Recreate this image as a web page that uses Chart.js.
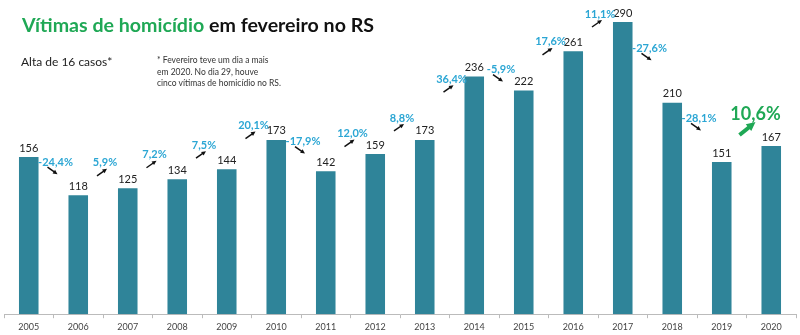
<!DOCTYPE html>
<html>
<head>
<meta charset="utf-8">
<script src="https://cdn.jsdelivr.net/npm/chart.js@4.4.1/dist/chart.umd.min.js"></script>
<style>
  body { margin: 0; background: #fff; }
  #wrap { position: relative; width: 800px; height: 335px; }
  #title { position: absolute; left: 22px; top: 15px; font: bold 19.6px Lato, sans-serif; line-height: 1; color: #111; white-space: nowrap; }
  #title span { color: #1fa855; }
  #sub { position: absolute; left: 21px; top: 56px; font: 12px Lato, sans-serif; line-height: 1; color: #222; }
  #note { position: absolute; left: 157px; top: 55px; font: 8.5px Lato, sans-serif; line-height: 11.5px; color: #333; }
</style>
</head>
<body>
<div id="wrap">
  <canvas id="myChart" width="800" height="335"></canvas>
  <div id="title"><span>Vítimas de homicídio</span> em fevereiro no RS</div>
  <div id="sub">Alta de 16 casos*</div>
  <div id="note">* Fevereiro teve um dia a mais<br>em 2020. No dia 29, houve<br>cinco vítimas de homicídio no RS.</div>
</div>
<script>
const years = ['2005', '2006', '2007', '2008', '2009', '2010', '2011', '2012',
               '2013', '2014', '2015', '2016', '2017', '2018', '2019', '2020'];
const victims = [156, 118, 125, 134, 144, 173, 142, 159, 173, 236, 222, 261, 290, 210, 151, 167];
// variação de um ano para o seguinte
const changes = ['-24,4%', '5,9%', '7,2%', '7,5%', '20,1%', '-17,9%', '12,0%', '8,8%',
                 '36,4%', '-5,9%', '17,6%', '11,1%', '-27,6%', '-28,1%', '10,6%'];

function arrow(ctx, x1, y1, x2, y2, color, width, head) {
    const a = Math.atan2(y2 - y1, x2 - x1);
    ctx.save();
    ctx.strokeStyle = color;
    ctx.fillStyle = color;
    ctx.lineWidth = width;
    ctx.beginPath();
    ctx.moveTo(x1, y1);
    ctx.lineTo(x2 - Math.cos(a) * head * 0.7, y2 - Math.sin(a) * head * 0.7);
    ctx.stroke();
    ctx.beginPath();
    ctx.moveTo(x2, y2);
    ctx.lineTo(x2 - head * Math.cos(a - 0.45), y2 - head * Math.sin(a - 0.45));
    ctx.lineTo(x2 - head * Math.cos(a + 0.45), y2 - head * Math.sin(a + 0.45));
    ctx.closePath();
    ctx.fill();
    ctx.restore();
}

const labelsPlugin = {
    id: 'labels',
    afterDatasetsDraw(chart) {
        const ctx = chart.ctx;
        const meta = chart.getDatasetMeta(0);
        ctx.save();
        ctx.textAlign = 'center';
        ctx.textBaseline = 'middle';

        // valores acima das barras
        ctx.font = '11px Lato';
        ctx.fillStyle = '#222';
        meta.data.forEach((bar, i) => {
            ctx.fillText(victims[i], bar.x, bar.y - 9);
        });

        // variações com setas
        changes.forEach((txt, i) => {
            const a = meta.data[i], b = meta.data[i + 1];
            const midTop = (a.y + b.y) / 2;
            const up = victims[i + 1] > victims[i];
            const last = i === changes.length - 1;
            let cx = (a.x + b.x) / 2 + 2;
            let cy = Math.max(midTop - (up ? 29 : 14), 14);
            if (last) {
                cx = (a.x + b.x) / 2 + 9;
                cy = midTop - 40;
                ctx.font = 'bold 18px Lato';
                ctx.fillStyle = '#1fa855';
                ctx.fillText(txt, cx, cy);
                arrow(ctx, cx - 16, cy + 21, cx, cy + 8, '#1fa855', 4, 10);
                return;
            }
            ctx.font = 'bold 11px Lato';
            ctx.fillStyle = '#2ba6d4';
            ctx.fillText(txt, cx, cy);
            if (up) {
                arrow(ctx, cx - 8, cy + 13, cx + 2, cy + 6, '#111', 1.5, 5);
            } else {
                arrow(ctx, cx - 8, cy + 5, cx + 2, cy + 12, '#111', 1.5, 5);
            }
        });
        ctx.restore();
    }
};

function drawChart() {
    const ctx = document.getElementById('myChart').getContext('2d');
    new Chart(ctx, {
        type: 'bar',
        data: {
            labels: years,
            datasets: [{
                data: victims,
                backgroundColor: '#2f8499',
                categoryPercentage: 1,
                barPercentage: 0.395
            }]
        },
        options: {
            responsive: false,
            animation: false,
            layout: { padding: { left: 4, right: 4, top: 12, bottom: 0 } },
            plugins: { legend: { display: false }, tooltip: { enabled: false } },
            scales: {
                x: {
                    grid: { drawOnChartArea: false, tickLength: 4, color: '#bbb' },
                    border: { color: '#bbb' },
                    ticks: { color: '#444', font: { family: 'Lato', size: 9 }, padding: 3, maxRotation: 0 }
                },
                y: { display: false, min: 0, max: 300 }
            }
        },
        plugins: [labelsPlugin]
    });
}

drawChart();
</script>
</body>
</html>
